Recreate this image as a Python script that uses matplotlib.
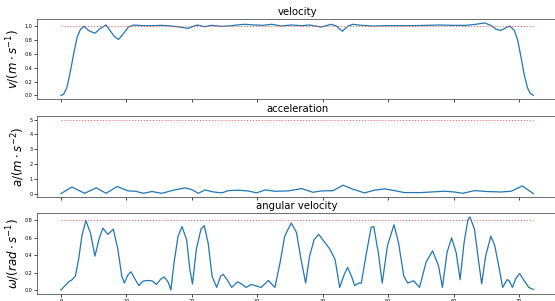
import matplotlib
matplotlib.use('Agg')
import matplotlib.pyplot as plt

# velocity (time, value)
vel_t = [0, 0.4, 0.9, 1.45, 2.0, 2.5, 3.0, 3.6, 4.2, 5.2, 6.0, 6.9, 7.5, 8.2, 8.8, 9.6, 10.3,
         11.1, 12.4, 13.9, 15.4, 16.9, 18.2, 19.4, 20.8, 22.0, 23.0, 24.5, 25.6, 26.9, 28.1,
         29.6, 30.9, 32.2, 33.7, 35.2, 36.8, 38.0, 39.8, 41.3, 42.1, 43.0, 43.9, 44.6, 45.9,
         47.7, 49.7, 51.8, 53.8, 55.8, 57.8, 59.9, 61.9, 63.4, 64.7, 65.7, 66.5, 67.2, 68.0,
         68.6, 69.3, 69.8, 70.3, 70.8, 71.3, 71.7, 72.2]
vel_v = [0, 0.015, 0.11, 0.35, 0.63, 0.85, 0.96, 1.0, 0.94, 0.90, 0.97, 1.02, 0.94, 0.85, 0.81, 0.90, 0.99,
         1.02, 1.01, 1.01, 1.015, 1.005, 0.99, 0.97, 1.02, 0.995, 1.015, 1.0, 1.005, 1.02, 1.03,
         1.02, 1.015, 1.03, 1.005, 1.02, 1.01, 1.02, 0.99, 1.03, 1.005, 0.93, 1.005, 1.03, 1.015,
         1.005, 1.01, 1.01, 1.01, 1.015, 1.02, 1.015, 1.015, 1.03, 1.05, 1.015, 0.96, 0.94, 0.98,
         1.005, 0.94, 0.80, 0.56, 0.30, 0.11, 0.03, 0]

# acceleration
acc_t = [0, 1.7, 3.6, 5.4, 6.9, 8.6, 10.3, 11.4, 12.6, 13.9, 15.4, 17.2, 19.0, 20.0, 21.0, 22.0,
         23.3, 24.6, 25.6, 27.1, 28.6, 29.9, 31.2, 32.7, 34.7, 36.8, 38.5, 39.8, 41.6, 43.1, 44.6,
         46.4, 47.9, 49.5, 51.0, 52.5, 55.0, 56.6, 58.6, 60.1, 61.4, 63.2, 65.2, 67.2, 68.8, 70.5, 72.2]
acc_v = [0, 0.45, 0.02, 0.39, 0.02, 0.48, 0.18, 0.16, 0.02, 0.14, 0.02, 0.23, 0.39, 0.27, 0.02, 0.25,
         0.11, 0.05, 0.2, 0.23, 0.18, 0.05, 0.25, 0.16, 0.18, 0.34, 0.09, 0.18, 0.2, 0.57, 0.30,
         0.05, 0.23, 0.32, 0.2, 0.07, 0.07, 0.11, 0.16, 0.11, 0.02, 0.2, 0.14, 0.11, 0.16, 0.52, 0.0]

# angular velocity
ang_t = [0, 1.2, 1.7, 2.2, 2.7, 3.2, 3.8, 4.5, 5.2, 5.8, 6.4, 7.2, 8.0, 8.7, 9.3, 9.7, 10.2, 10.7,
         11.3, 11.9, 12.5, 13.1, 13.9, 14.6, 15.3, 15.8, 16.4, 16.8, 17.3, 17.9, 18.5, 19.2, 19.7,
         20.1, 20.7, 21.4, 21.9, 22.5, 23.1, 23.8, 24.4, 24.8, 25.5, 26.1, 27.0, 27.6, 28.3, 29.1,
         29.7, 30.6, 31.7, 32.7, 33.5, 34.2, 35.2, 36.0, 36.7, 37.4, 38.0, 38.7, 39.4, 40.2, 41.1,
         41.9, 42.6, 43.3, 43.8, 44.4, 44.9, 45.5, 45.9, 46.7, 47.4, 47.8, 48.5, 49.1, 49.9, 50.9,
         51.6, 52.4, 53.0, 53.9, 54.8, 55.8, 56.8, 57.7, 58.3, 59.0, 59.7, 60.4, 61.0, 61.6, 62.2,
         62.5, 63.2, 63.8, 64.3, 64.9, 65.7, 66.3, 67.0, 67.5, 68.2, 68.5, 69.0, 69.5, 70.1, 70.8,
         71.5, 72.2]
ang_v = [0, 0.095, 0.118, 0.16, 0.35, 0.62, 0.80, 0.66, 0.39, 0.58, 0.71, 0.64, 0.70, 0.47, 0.16,
         0.08, 0.17, 0.21, 0.13, 0.05, 0.10, 0.11, 0.107, 0.065, 0.13, 0.15, 0.09, 0.0, 0.32, 0.62,
         0.73, 0.58, 0.24, 0.07, 0.47, 0.70, 0.74, 0.54, 0.16, 0.03, 0.16, 0.18, 0.107, 0.03, 0.095,
         0.07, 0.03, 0.065, 0.05, 0.03, 0.11, 0.03, 0.32, 0.62, 0.77, 0.66, 0.35, 0.08, 0.39, 0.58,
         0.64, 0.56, 0.47, 0.35, 0.03, 0.18, 0.26, 0.16, 0.05, 0.08, 0.08, 0.43, 0.72, 0.73, 0.43,
         0.08, 0.51, 0.75, 0.54, 0.16, 0.08, 0.107, 0.03, 0.32, 0.45, 0.28, 0.03, 0.43, 0.60, 0.43,
         0.12, 0.54, 0.81, 0.84, 0.70, 0.35, 0.07, 0.39, 0.62, 0.51, 0.24, 0.03, 0.12, 0.107, 0.03,
         0.13, 0.19, 0.107, 0.03, 0.005]

t_end = 72.2
titles = ['velocity', 'acceleration', 'angular velocity']
ylabels = [r'$v/(m\cdot s^{-1})$', r'$a/(m\cdot s^{-2})$', r'$\omega/(rad\cdot s^{-1})$']
limits = [1.0, 5.0, 0.8]
series = [(vel_t, vel_v), (acc_t, acc_v), (ang_t, ang_v)]

fig = plt.figure(figsize=(5.55, 3.01), dpi=100)
W, H = 555, 301
# axes boxes in pixels: top, bottom (left/right common)
boxes = [(19.3, 99.0), (116.0, 197.3), (213.3, 293.7)]
left, right = 37.3, 557.0

axes = []
for i, (top, bot) in enumerate(boxes):
    ax = fig.add_axes([left / W, 1 - bot / H, (right - left) / W, (bot - top) / H],
                      sharex=axes[0] if axes else None)
    t, v = series[i]
    ax.plot(t, v, color='#1f77b4', lw=0.9)
    ax.plot([0, t_end], [limits[i], limits[i]], color='#ff4040', ls=':', lw=0.8, alpha=0.8)
    ax.set_title(titles[i], fontsize=7.3, pad=3)
    ax.set_ylabel(ylabels[i], fontsize=8.5, labelpad=2)
    ax.tick_params(labelsize=3.5, length=2, width=0.5, pad=1.5)
    for s in ax.spines.values():
        s.set_linewidth(0.6)
        s.set_color('#555555')
    if i < 2:
        ax.tick_params(labelbottom=False)
    axes.append(ax)

axes[0].set_yticks([0.0, 0.2, 0.4, 0.6, 0.8, 1.0])
axes[1].set_yticks([0, 1, 2, 3, 4, 5])
axes[2].set_yticks([0.0, 0.2, 0.4, 0.6, 0.8])
axes[2].set_xticks([0, 10, 20, 30, 40, 50, 60, 70])

plt.savefig('out.png', dpi=100)
